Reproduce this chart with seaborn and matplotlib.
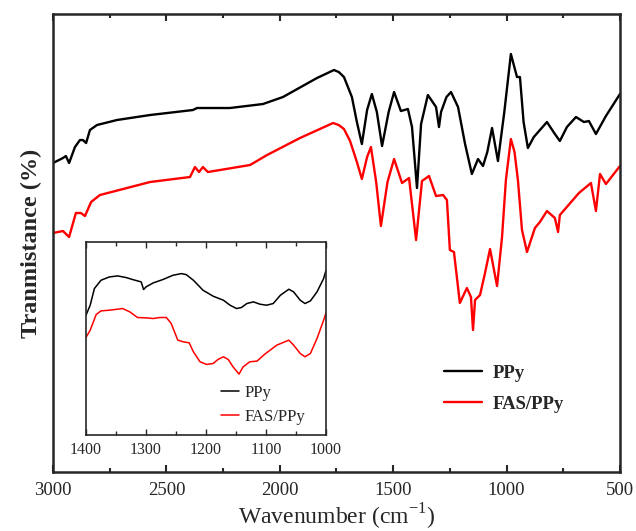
import matplotlib
matplotlib.use("Agg")

import matplotlib.pyplot as plt
import seaborn as sns
from matplotlib.ticker import MultipleLocator, NullLocator

# main spectrum (transmittance in arbitrary units)
ppy_wn = [3000, 2956, 2943, 2929, 2903, 2881, 2868, 2854, 2837, 2806, 2718, 2572, 2383, 2365, 2220,
          2074, 1986, 1836, 1761, 1740, 1717, 1682, 1660, 1638, 1615, 1594, 1572, 1549, 1520, 1496,
          1466, 1435, 1417, 1395, 1377, 1347, 1311, 1298, 1289, 1265, 1245, 1214, 1183, 1153, 1126,
          1104, 1085, 1064, 1038, 1010, 981, 954, 941, 925, 906, 880, 822, 787, 765, 734, 694,
          659, 637, 606, 562, 500]
ppy_t = [309, 314, 316, 309, 325, 332, 332, 329, 342, 347, 352, 357, 362, 364, 364,
         368, 375, 394, 402, 400, 395, 375, 350, 328, 362, 378, 360, 326, 360, 380,
         361, 363, 345, 284, 348, 377, 365, 345, 360, 375, 380, 365, 328, 298, 313,
         306, 320, 344, 311, 360, 418, 395, 395, 350, 324, 335, 350, 338, 331, 345, 355,
         350, 351, 338, 356, 378]

fas_wn = [3000, 2956, 2929, 2899, 2877, 2859, 2832, 2793, 2572, 2396, 2374, 2356, 2339, 2317, 2131,
          2056, 1911, 1765, 1740, 1717, 1690, 1660, 1638, 1615, 1598, 1575, 1554, 1525, 1496, 1461,
          1430, 1399, 1373, 1342, 1311, 1280, 1263, 1250, 1232, 1206, 1175, 1157, 1148, 1139, 1117,
          1095, 1073, 1042, 1020, 1003, 981, 965, 950, 932, 910, 875, 853, 822, 787, 773, 765,
          681, 628, 606, 588, 562, 500]
fas_t = [239, 241, 235, 259, 259, 256, 270, 277, 290, 295, 305, 300, 305, 300, 307,
         317, 334, 349, 347, 343, 331, 310, 293, 315, 325, 290, 246, 290, 313, 289,
         294, 232, 291, 296, 276, 277, 272, 222, 220, 169, 184, 175, 142, 172, 177,
         199, 223, 186, 235, 292, 333, 320, 292, 242, 220, 244, 250, 261, 254, 240, 257,
         279, 289, 261, 298, 288, 306]

# inset, 1400-1000 cm-1
in_ppy_wn = [1400, 1393, 1386, 1375, 1361, 1347, 1333, 1322, 1308, 1304, 1300, 1288, 1272, 1255, 1241,
             1233, 1221, 1205, 1188, 1171, 1160, 1149, 1141, 1132, 1121, 1110, 1099, 1088, 1076, 1062,
             1054, 1043, 1035, 1026, 1015, 1004, 1000]
in_ppy_t = [360, 390, 440, 465, 475, 478, 473, 467, 460, 437, 445, 457, 467, 480, 485,
            482, 465, 435, 417, 405, 390, 380, 383, 395, 400, 393, 390, 395, 420, 438,
            430, 405, 395, 403, 430, 470, 495]

in_fas_wn = [1400, 1393, 1383, 1375, 1361, 1339, 1327, 1314, 1300, 1288, 1277, 1266, 1258, 1247, 1238,
             1228, 1221, 1210, 1199, 1188, 1180, 1171, 1163, 1155, 1145, 1138, 1127, 1115, 1102, 1082,
             1062, 1054, 1043, 1035, 1026, 1015, 1004, 1000]
in_fas_t = [293, 315, 362, 373, 375, 380, 370, 353, 352, 350, 353, 353, 335, 285, 280,
            277, 250, 220, 212, 215, 227, 235, 227, 205, 183, 205, 220, 222, 243, 270,
            285, 270, 245, 235, 245, 290, 345, 367]

sns.set_style("ticks")
plt.rcParams['font.family'] = ['Liberation Serif', 'DejaVu Serif']
plt.rcParams['mathtext.fontset'] = 'custom'
plt.rcParams['mathtext.rm'] = 'Liberation Serif'
plt.rcParams['lines.solid_joinstyle'] = 'round'

fig = plt.figure(figsize=(6.36, 5.31), dpi=100)
ax = fig.add_axes([0.0833, 0.1111, 0.8915, 0.8625])

sns.lineplot(x=ppy_wn, y=ppy_t, color="black", lw=1.7, label="PPy", ax=ax, estimator=None)
sns.lineplot(x=fas_wn, y=fas_t, color="#ff0000", lw=1.7, label="FAS/PPy", ax=ax, estimator=None)

ax.set_xlim(3000, 500)
ax.set_ylim(0, 458)
ax.xaxis.set_major_locator(MultipleLocator(500))
ax.xaxis.set_minor_locator(MultipleLocator(250))
ax.yaxis.set_major_locator(NullLocator())
ax.tick_params(axis="x", which="both", direction="in", top=True, width=1.5, labelsize=13.5, pad=7)
ax.tick_params(axis="x", which="major", length=5)
ax.tick_params(axis="x", which="minor", length=3)
for s in ax.spines.values():
    s.set_linewidth(1.8)
ax.set_xlabel("Wavenumber (cm$^{\\mathregular{-1}}$)", fontsize=17, labelpad=2)
ax.set_ylabel("Tranmistance (%)", fontsize=17.5, fontweight="bold", labelpad=8)

ax.legend(loc="center left", bbox_to_anchor=(0.66, 0.182), frameon=False,
          prop={"size": 13.5, "weight": "bold"}, handlelength=2.0,
          handletextpad=0.6, labelspacing=0.75)

# inset
ins = fig.add_axes([0.1352, 0.1808, 0.3774, 0.3635])
sns.lineplot(x=in_ppy_wn, y=in_ppy_t, color="black", lw=1.1, label="PPy", ax=ins, estimator=None)
sns.lineplot(x=in_fas_wn, y=in_fas_t, color="#ff0000", lw=1.1, label="FAS/PPy", ax=ins, estimator=None)
ins.set_xlim(1400, 1000)
ins.set_ylim(0, 580)
ins.xaxis.set_major_locator(MultipleLocator(100))
ins.xaxis.set_minor_locator(MultipleLocator(50))
ins.yaxis.set_major_locator(NullLocator())
ins.tick_params(axis="x", which="both", direction="in", top=True, width=1.0, labelsize=11.5, pad=5)
ins.tick_params(axis="x", which="major", length=4)
ins.tick_params(axis="x", which="minor", length=3)
for s in ins.spines.values():
    s.set_linewidth(1.2)
ins.set_xlabel("")
ins.set_ylabel("")
ins.legend(loc="center left", bbox_to_anchor=(0.50, 0.155), frameon=False,
           prop={"size": 12}, handlelength=1.1, handletextpad=0.3, labelspacing=0.45)

fig.savefig("out.png", dpi=100)
